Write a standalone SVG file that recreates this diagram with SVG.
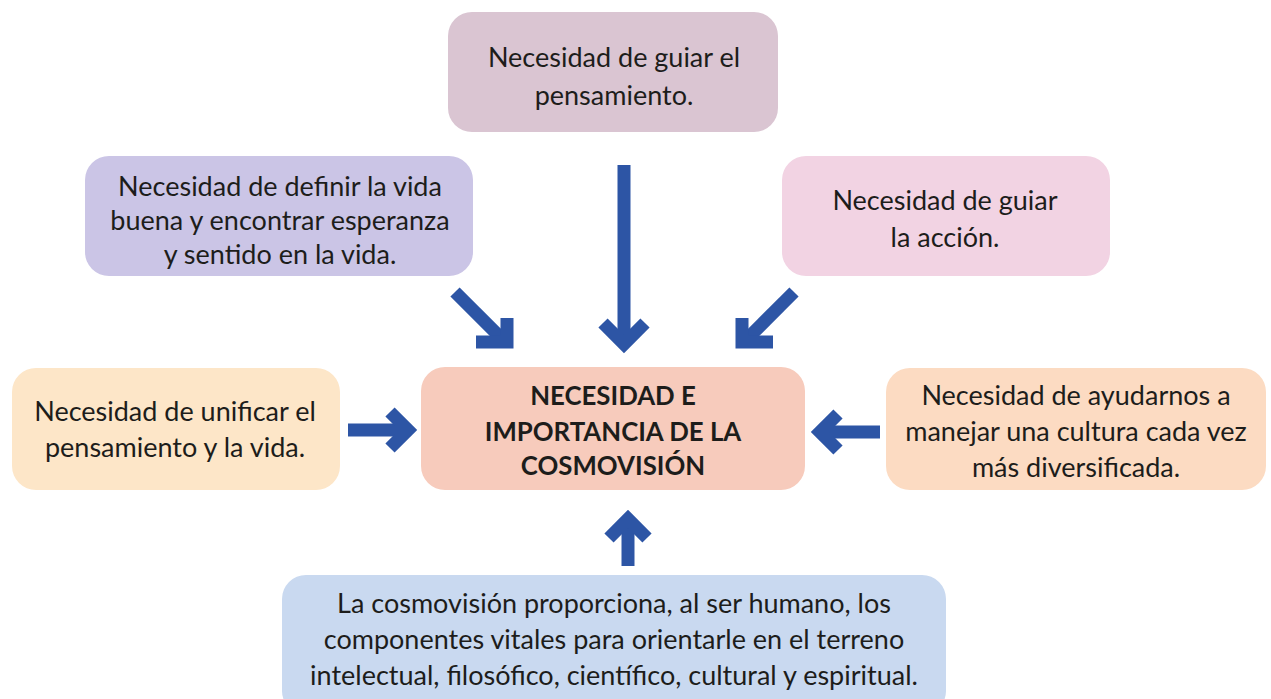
<svg xmlns="http://www.w3.org/2000/svg" width="1271" height="699" viewBox="0 0 1271 699">
<style>
.t{font-family:Lato,"Open Sans","Liberation Sans",sans-serif;font-size:27px;fill:#1d1d1b;text-anchor:middle}
.b{font-weight:bold;font-size:25.8px}
.a{fill:none;stroke:#2D55A5;stroke-width:13;stroke-linecap:butt;stroke-linejoin:miter}
</style>
<rect width="1271" height="699" fill="#ffffff"/>
<g id="top"><rect x="448" y="12" width="330" height="120" rx="24" fill="#DAC5D2"/>
<text class="t" x="614" y="67">Necesidad de guiar el</text><text class="t" x="614" y="105">pensamiento.</text></g>
<g id="vida"><rect x="85" y="156" width="388" height="120" rx="24" fill="#CBC5E6"/>
<text class="t" x="280" y="196">Necesidad de definir la vida</text><text class="t" x="280" y="230">buena y encontrar esperanza</text><text class="t" x="280" y="264">y sentido en la vida.</text></g>
<g id="accion"><rect x="782" y="156" width="328" height="120" rx="24" fill="#F2D3E3"/>
<text class="t" x="945" y="210">Necesidad de guiar</text><text class="t" x="945" y="247">la acción.</text></g>
<g id="center"><rect x="421" y="367" width="384" height="123" rx="24" fill="#F7CBBC"/>
<text class="t b" x="613" y="405">NECESIDAD E</text><text class="t b" x="613" y="441">IMPORTANCIA DE LA</text><text class="t b" x="613" y="475">COSMOVISIÓN</text></g>
<g id="unificar"><rect x="12" y="368" width="328" height="122" rx="24" fill="#FDE6C8"/>
<text class="t" x="175" y="421">Necesidad de unificar el</text><text class="t" x="175" y="457">pensamiento y la vida.</text></g>
<g id="cultura"><rect x="886" y="368" width="380" height="122" rx="24" fill="#FCDBC2"/>
<text class="t" x="1076" y="405">Necesidad de ayudarnos a</text><text class="t" x="1076" y="441">manejar una cultura cada vez</text><text class="t" x="1076" y="477">más diversificada.</text></g>
<g id="bottom"><rect x="282" y="575" width="664" height="140" rx="24" fill="#C9D9F0"/>
<text class="t" x="614" y="613">La cosmovisión proporciona, al ser humano, los</text><text class="t" x="614" y="649">componentes vitales para orientarle en el terreno</text><text class="t" x="614" y="685">intelectual, filosófico, científico, cultural y espiritual.</text></g>
<g id="connectors">
<path class="a" d="M624 165V344"/><path class="a" d="M603 323L624 344L645 323"/>
<path class="a" d="M455 292L506 343"/><path class="a" d="M507 318V342H476"/>
<path class="a" d="M794 292L743 343"/><path class="a" d="M742 318V342H773"/>
<path class="a" d="M348 430H406"/><path class="a" d="M390 412L408 430L390 448"/>
<path class="a" d="M880 432H822"/><path class="a" d="M838 414L820 432L838 450"/>
<path class="a" d="M628 566V520"/><path class="a" d="M609 538L628 519L647 538"/>
</g>
</svg>
